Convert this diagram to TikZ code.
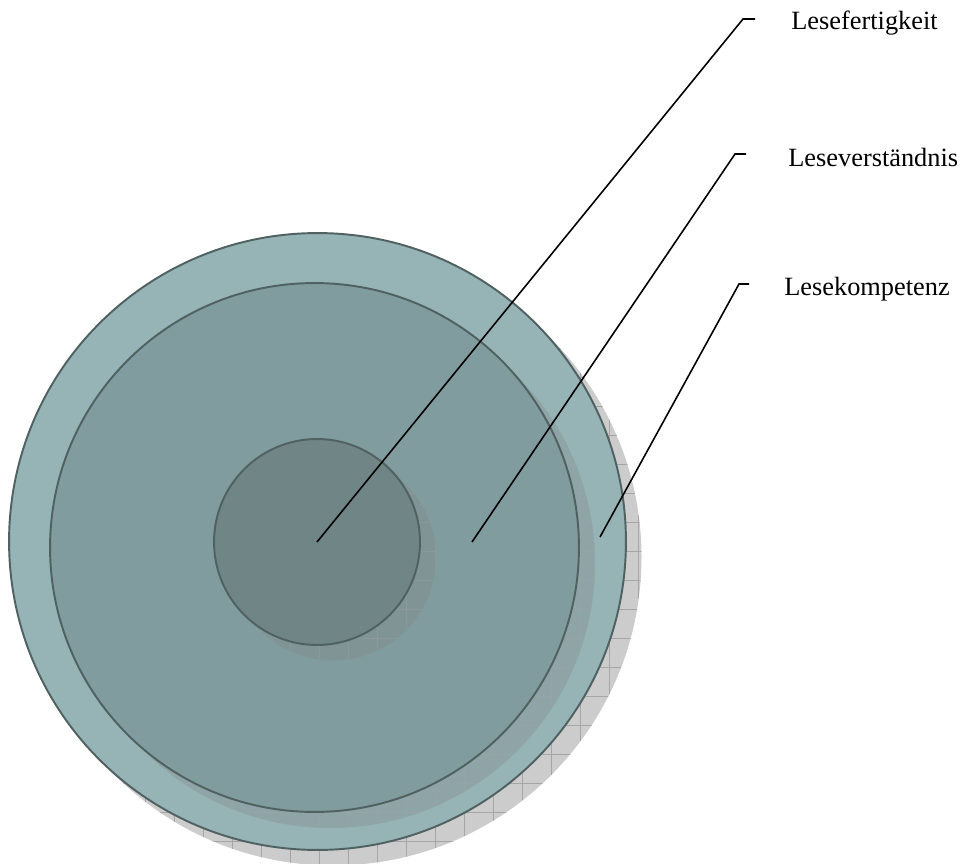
\documentclass[tikz,border=0pt]{standalone}
\usepackage{fontspec}
\setmainfont{Liberation Serif}
\usetikzlibrary{positioning, calc}
\definecolor{ringouter}{RGB}{150,179,181}
\definecolor{ringmiddle}{RGB}{129,156,158}
\definecolor{ringinner}{RGB}{111,133,134}
\definecolor{ringedge}{RGB}{80,97,98}
\definecolor{shadowgray}{RGB}{204,204,204}
\definecolor{gridgray}{RGB}{165,165,165}
\tikzset{
  ring/.style={circle, draw=ringedge, line width=1.1pt, inner sep=0pt},
  leader/.style={draw=black, line width=0.9pt},
  lbl/.style={anchor=base west, inner sep=0pt, font=\fontsize{15}{18}\selectfont},
  gridline/.style={gridgray, line width=0.5pt}
}
\newcommand{\shadowgrid}{%
  \foreach \gx in {0,29,...,962} {\draw[gridline] (\gx,0) -- (\gx,864);}
  \foreach \gy in {0,29,...,864} {\draw[gridline] (0,\gy) -- (962,\gy);}}

\begin{document}
\begin{tikzpicture}[x=0.02cm, y=-0.02cm]
        \useasboundingbox (0,0) rectangle (962,864);
        % schatten aussen
        \begin{scope}
          \clip (333,557) circle [radius=308.5];
          \fill[shadowgray] (0,0) rectangle (962,864);
          \shadowgrid
        \end{scope}
        \node[ring, fill=ringouter, minimum size=12.34cm] (outer) at (317.5,541.5) {};
        % schatten mitte
        \begin{scope}[opacity=0.28]
          \clip (330.5,563.5) circle [radius=264.5];
          \fill[black!50] (0,0) rectangle (962,864);
          \shadowgrid
        \end{scope}
        \node[ring, fill=ringmiddle, minimum size=10.58cm] (middle) at (314.5,547.5) {};
        % schatten innen
        \begin{scope}[opacity=0.28]
          \clip (333,557.5) circle [radius=103];
          \fill[black!50] (0,0) rectangle (962,864);
          \shadowgrid
        \end{scope}
        \node[ring, fill=ringinner, minimum size=4.12cm] (inner) at (317,542) {};
        % fuehrungslinien
        \coordinate (p-fert) at (317,542);
        \coordinate (p-vers) at (472,542);
        \coordinate (p-komp) at (600,537);
        \coordinate (e-fert) at (743,19);
        \coordinate (e-vers) at (735,154);
        \coordinate (e-komp) at (739,284);
        \node[lbl] (l-fert) at (791,30) {Lesefertigkeit};
        \node[lbl] (l-vers) at (788,167) {Leseverständnis};
        \node[lbl] (l-komp) at (784,296) {Lesekompetenz};
        \draw[leader] (p-fert) -- (e-fert) -- ++(12,0);
        \draw[leader] (p-vers) -- (e-vers) -- ++(11,0);
        \draw[leader] (p-komp) -- (e-komp) -- ++(10,0);
      \end{tikzpicture}
\end{document}
